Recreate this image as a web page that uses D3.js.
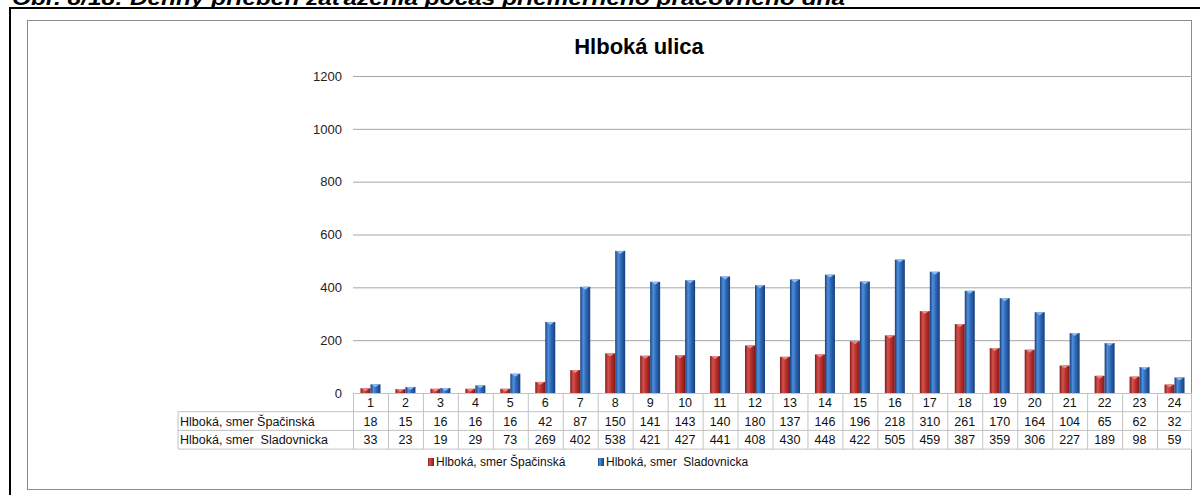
<!DOCTYPE html>
<html>
<head>
<meta charset="utf-8">
<script src="https://cdn.jsdelivr.net/npm/d3@7"></script>
<style>
  body { margin: 0; background: #fff; }
  text { font-family: "Liberation Sans", Arial, sans-serif; white-space: pre; }
</style>
</head>
<body>
<svg id="chart"></svg>
<script>
// data
const hours = ["1","2","3","4","5","6","7","8","9","10","11","12","13","14","15","16","17","18","19","20","21","22","23","24"];
const spacinska = [18,15,16,16,16,42,87,150,141,143,140,180,137,146,196,218,310,261,170,164,104,65,62,32];
const sladovnicka = [33,23,19,29,73,269,402,538,421,427,441,408,430,448,422,505,459,387,359,306,227,189,98,59];
const seriesNames = ["Hlboká, smer Špačinská", "Hlboká, smer  Sladovnicka"];
const yTicks = [0, 200, 400, 600, 800, 1000, 1200];

const W = 1200, H = 495;
const svg = d3.select("#chart").attr("width", W).attr("height", H);

// outer frame + caption (cut off at top, like the source page)
svg.append("text")
  .attr("x", 12).attr("y", 4.5)
  .attr("font-size", 20).attr("font-style", "italic").attr("font-weight", "bold")
  .attr("textLength", 833).attr("lengthAdjust", "spacingAndGlyphs")
  .text("Obr. 8/18: Denný priebeh zaťaženia počas priemerného pracovného dňa");
svg.append("rect")
  .attr("x", 10).attr("y", 8).attr("width", 1210).attr("height", 500)
  .attr("fill", "none").attr("stroke", "#000").attr("stroke-width", 2);

// chart area border
svg.append("rect")
  .attr("x", 27.5).attr("y", 20.5).attr("width", 1164).attr("height", 469)
  .attr("fill", "#fff").attr("stroke", "#8c8c8c").attr("stroke-width", 1);

svg.append("text")
  .attr("x", 639).attr("y", 54).attr("text-anchor", "middle")
  .attr("font-size", 22).attr("font-weight", "bold").attr("fill", "#000")
  .text("Hlboká ulica");

const left = 353, right = 1192, y0 = 393, yTop = 76;
const x = d3.scaleBand().domain(hours).range([left, right]);
const y = d3.scaleLinear().domain([0, 1200]).range([y0, yTop]);

// gridlines and y labels
const yAxis = d3.axisLeft(y).tickValues(yTicks).tickFormat(d3.format("d"))
  .tickSize(-(right - left)).tickPadding(11);
const gy = svg.append("g").attr("transform", `translate(${left},0)`).call(yAxis);
gy.select(".domain").remove();
gy.selectAll(".tick line").attr("stroke", "#a6a6a6").attr("stroke-width", 1);
gy.selectAll(".tick text").attr("font-size", 13).attr("fill", "#222")
  .attr("font-family", "Liberation Sans, Arial, sans-serif");

// gradients for the 3d look of the bars
const defs = svg.append("defs");
const colors = [
  { id: "gRed", dark: "#7e1a18", mid: "#d4524e", base: "#b9302c", cap: "#e98a86" },
  { id: "gBlue", dark: "#173f7a", mid: "#4f8fdc", base: "#2d66b5", cap: "#8dbaf0" }
];
colors.forEach(c => {
  const g = defs.append("linearGradient").attr("id", c.id).attr("x1", "0").attr("x2", "1").attr("y1", "0").attr("y2", "0");
  g.append("stop").attr("offset", "0%").attr("stop-color", c.dark);
  g.append("stop").attr("offset", "30%").attr("stop-color", c.mid);
  g.append("stop").attr("offset", "60%").attr("stop-color", c.base);
  g.append("stop").attr("offset", "100%").attr("stop-color", c.dark);
});

const barW = 10;
const seriesVals = [spacinska, sladovnicka];
seriesVals.forEach((vals, s) => {
  const c = colors[s];
  const g = svg.append("g");
  const bx = (d, i) => x(hours[i]) + x.bandwidth() / 2 - barW + s * barW;
  g.selectAll("rect")
    .data(vals)
    .join("rect")
      .attr("x", bx)
      .attr("y", d => y(d))
      .attr("width", barW)
      .attr("height", d => y0 - y(d))
      .attr("fill", `url(#${c.id})`);
  // lighter top cap
  g.selectAll("path")
    .data(vals)
    .join("path")
      .attr("d", (d, i) => {
        const x1 = bx(d, i), yy = y(d);
        return `M${x1 + 1},${yy} L${x1 + barW - 1},${yy} L${x1 + barW / 2},${yy + 3} Z`;
      })
      .attr("fill", c.cap);
});

// data table under the axis
const rowH = 18.7;
const labelLeft = 178;
const grid = "#c3c3c3";
const tbl = svg.append("g");
tbl.append("line").attr("x1", left).attr("x2", right).attr("y1", y0 + 0.5).attr("y2", y0 + 0.5).attr("stroke", grid);
[1, 2, 3].forEach(r => {
  tbl.append("line").attr("x1", labelLeft).attr("x2", right)
    .attr("y1", y0 + r * rowH).attr("y2", y0 + r * rowH).attr("stroke", grid);
});
tbl.append("line").attr("x1", labelLeft).attr("x2", labelLeft).attr("y1", y0 + rowH).attr("y2", y0 + 3 * rowH).attr("stroke", grid);
hours.forEach(h => {
  tbl.append("line").attr("x1", x(h) + 0.5).attr("x2", x(h) + 0.5).attr("y1", y0).attr("y2", y0 + 3 * rowH).attr("stroke", grid);
});
tbl.append("line").attr("x1", right - 0.5).attr("x2", right - 0.5).attr("y1", y0).attr("y2", y0 + 3 * rowH).attr("stroke", grid);

const rows = [hours, spacinska, sladovnicka];
rows.forEach((vals, r) => {
  tbl.selectAll(`text.r${r}`)
    .data(vals)
    .join("text")
      .attr("class", `r${r}`)
      .attr("x", (d, i) => x(hours[i]) + x.bandwidth() / 2)
      .attr("y", y0 + r * rowH + 14)
      .attr("text-anchor", "middle")
      .attr("font-size", 12.5).attr("fill", "#111")
      .text(d => d);
});
seriesNames.forEach((n, r) => {
  tbl.append("text")
    .attr("x", labelLeft + 2).attr("y", y0 + (r + 1) * rowH + 14)
    .attr("font-size", 12.5).attr("fill", "#111")
    .text(n);
});

// legend
const legX = [428, 598];
seriesNames.forEach((n, s) => {
  const lg = svg.append("g").attr("transform", `translate(${legX[s]},466)`);
  lg.append("rect").attr("x", 0).attr("y", -8).attr("width", 6).attr("height", 8)
    .attr("fill", `url(#${colors[s].id})`);
  lg.append("text").attr("x", 8).attr("y", 0).attr("font-size", 12).attr("fill", "#111").text(n);
});
</script>
</body>
</html>
